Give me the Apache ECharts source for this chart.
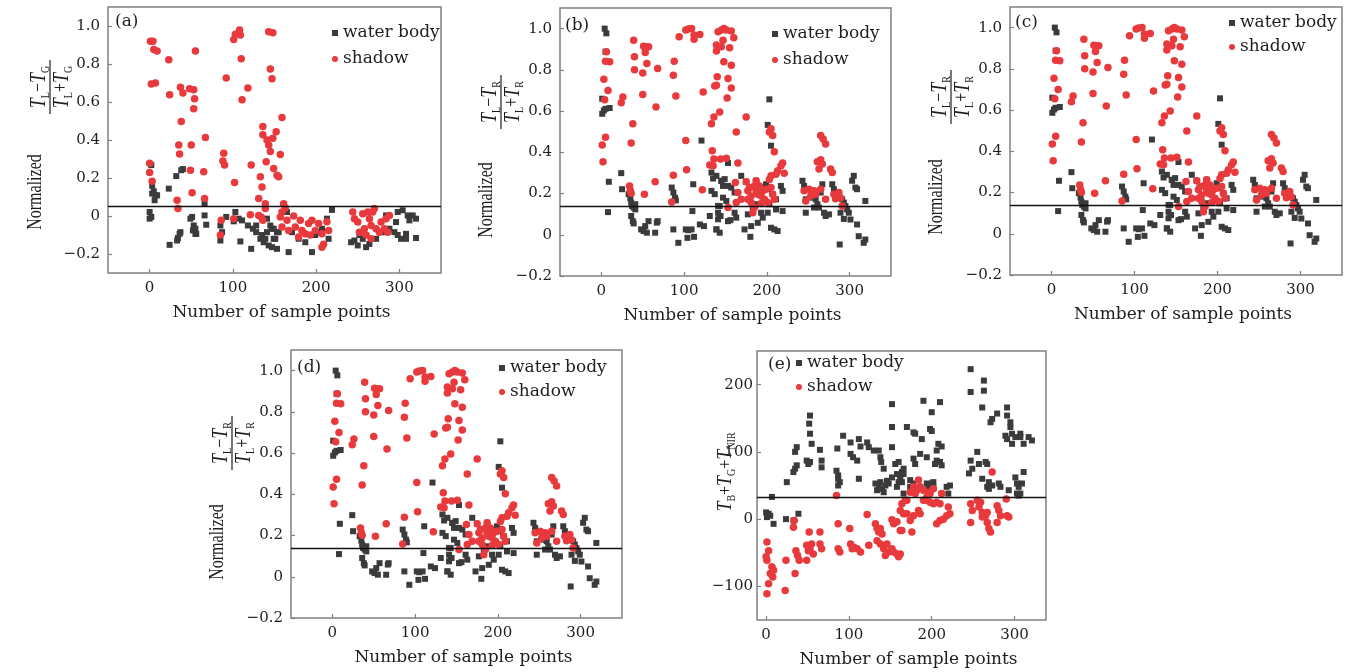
<!DOCTYPE html>
<html><head><meta charset="utf-8">
<script src="https://cdn.jsdelivr.net/npm/echarts@6/dist/echarts.min.js"></script>
<style>html,body{margin:0;padding:0;background:#fff}#c{width:1356px;height:672px}</style>
</head><body><div id="c"></div>
<script>
const xTicks = [0, 100, 200, 300];
const yTicksNorm = [-0.2, 0, 0.2, 0.4, 0.6, 0.8, 1.0];
const yTicksE = [-100, 0, 100, 200];
const seriesNames = ['water body', 'shadow'];
const xTitle = 'Number of sample points';

const aLine = 0.053;
const bcdLine = 0.137;
const eLine = 33;

const aWater = [[2,0.268],[3,0.159],[5,0.13],[7,0.109],[3,0.118],[9,0.109],[6,0.083],[0,0.021],[2,-0.005],[0,-0.014],[32,0.21],[38,0.241],[40,0.247],[23,0.144],[24,-0.152],[34,-0.116],[36,-0.094],[37,-0.085],[33,-0.129],[49,-0.014],[51,-0.005],[53,-0.05],[55,-0.067],[55,-0.094],[52,-0.076],[56,-0.094],[66,0.003],[68,-0.046],[66,0.065],[85,-0.129],[87,-0.085],[85,-0.05],[92,-0.005],[103,0.021],[101,-0.028],[107,-0.014],[111,-0.023],[109,-0.134],[122,-0.173],[118,-0.05],[124,-0.067],[128,-0.085],[135,-0.10],[137,-0.138],[139,-0.12],[141,-0.085],[145,-0.05],[149,-0.067],[153,-0.085],[153,-0.173],[143,-0.155],[133,-0.12],[128,-0.05],[141,-0.014],[149,-0.12],[147,-0.164],[163,0.039],[165,0.021],[219,0.032],[213,-0.014],[207,-0.067],[203,-0.085],[199,-0.10],[215,-0.12],[151,-0.12],[167,-0.19],[195,-0.19],[187,-0.138],[179,-0.12],[171,-0.085],[155,-0.085],[147,-0.067],[246,-0.129],[250,-0.155],[260,-0.164],[264,-0.147],[272,-0.12],[278,-0.085],[288,-0.067],[294,-0.085],[298,-0.10],[302,-0.12],[308,-0.094],[308,-0.12],[298,0.021],[304,0.03],[310,0.003],[316,0.003],[320,-0.014],[320,-0.116],[312,-0.023],[296,-0.032],[284,0.003],[282,-0.085],[256,-0.12],[252,-0.10],[242,-0.138]];
const aShadow = [[1,0.92],[4,0.92],[5,0.876],[9,0.868],[2,0.695],[7,0.70],[55,0.868],[23,0.823],[24,0.638],[37,0.677],[40,0.647],[48,0.67],[53,0.665],[54,0.617],[53,0.564],[38,0.497],[67,0.413],[35,0.374],[36,0.326],[50,0.374],[0,0.277],[0,0.229],[3,0.183],[49,0.241],[65,0.233],[51,0.123],[33,0.083],[34,0.039],[66,0.092],[89,0.33],[88,0.289],[90,0.268],[102,0.176],[92,0.726],[101,0.929],[103,0.956],[108,0.979],[109,0.952],[110,0.827],[111,0.612],[118,0.674],[122,0.268],[133,0.206],[135,0.153],[131,0.092],[121,0.007],[131,0.003],[86,-0.023],[85,-0.10],[101,-0.014],[136,0.471],[136,0.427],[141,0.40],[143,0.374],[140,0.286],[149,0.25],[152,0.444],[143,0.97],[148,0.965],[145,0.774],[147,0.723],[139,0.065],[139,0.039],[134,-0.005],[136,-0.023],[153,0.214],[159,0.518],[148,0.409],[145,0.339],[157,0.324],[155,0.206],[161,0.065],[163,0.042],[159,0.021],[157,-0.005],[165,-0.023],[173,0.0],[181,-0.023],[175,-0.058],[183,-0.076],[191,-0.04],[195,-0.023],[199,-0.076],[203,-0.04],[207,-0.094],[209,-0.149],[207,-0.164],[187,-0.094],[179,-0.11],[193,-0.10],[215,-0.076],[213,-0.03],[167,-0.076],[159,-0.058],[244,0.021],[246,-0.014],[250,-0.032],[256,0.012],[262,0.021],[264,-0.014],[266,-0.05],[268,0.021],[270,0.039],[258,-0.067],[252,-0.085],[260,-0.10],[266,-0.12],[272,-0.067],[278,-0.032],[284,-0.014],[288,0.003],[282,-0.067],[286,-0.085],[276,-0.085]];

const bWater = [[4,1.0],[6,0.977],[5,0.888],[1,0.66],[3,0.603],[1,0.587],[5,0.611],[10,0.615],[9,0.257],[8,0.11],[24,0.299],[25,0.221],[33,0.197],[35,0.176],[36,0.156],[37,0.14],[39,0.132],[41,0.148],[41,0.123],[36,0.091],[38,0.066],[39,0.055],[48,0.026],[51,0.018],[55,0.01],[57,0.066],[53,0.042],[65,0.01],[67,0.059],[68,0.066],[85,0.229],[87,0.205],[89,0.18],[90,0.167],[87,0.026],[93,-0.039],[102,0.026],[105,0.022],[109,0.026],[104,-0.015],[112,-0.01],[111,0.245],[110,0.115],[121,0.457],[119,0.05],[124,0.042],[131,0.091],[139,0.026],[141,0.075],[143,0.091],[133,0.302],[135,0.273],[133,0.213],[137,0.197],[141,0.14],[145,0.261],[147,0.237],[203,0.657],[201,0.533],[205,0.432],[153,0.348],[139,0.286],[145,0.262],[149,0.27],[153,0.237],[157,0.229],[161,0.205],[147,0.18],[151,0.164],[143,0.139],[141,0.107],[144,0.091],[153,0.066],[156,0.071],[139,0.026],[143,0.01],[169,0.286],[175,0.257],[187,0.262],[199,0.245],[201,0.221],[217,0.237],[219,0.213],[207,0.197],[211,0.172],[197,0.164],[203,0.148],[187,0.148],[183,0.123],[177,0.099],[193,0.107],[195,0.083],[189,0.058],[181,0.042],[173,0.026],[180,-0.01],[205,0.034],[209,0.026],[213,0.018],[211,0.123],[219,0.115],[163,0.083],[161,0.107],[201,0.107],[243,0.262],[245,0.237],[247,0.172],[247,0.107],[255,0.18],[259,0.172],[261,0.148],[263,0.132],[257,0.132],[267,0.245],[265,0.205],[279,0.245],[281,0.221],[271,0.091],[275,0.099],[289,0.107],[291,0.172],[293,0.156],[295,0.139],[297,0.123],[299,0.107],[301,0.074],[303,0.262],[305,0.286],[307,0.229],[309,0.221],[319,0.164],[309,0.05],[311,-0.007],[319,-0.023],[317,-0.039],[288,-0.047],[293,0.077],[269,0.107]];
const bShadow = [[39,0.944],[51,0.915],[53,0.912],[57,0.912],[53,0.884],[40,0.863],[6,0.888],[5,0.842],[10,0.839],[40,0.801],[50,0.785],[55,0.831],[68,0.806],[3,0.754],[8,0.70],[4,0.655],[26,0.668],[24,0.64],[50,0.68],[66,0.62],[88,0.842],[87,0.774],[90,0.673],[38,0.538],[36,0.445],[5,0.473],[1,0.436],[2,0.354],[34,0.237],[35,0.213],[36,0.201],[52,0.197],[65,0.257],[87,0.289],[85,0.159],[102,0.457],[103,0.315],[122,0.218],[123,0.693],[94,0.961],[102,0.993],[105,0.998],[109,1.0],[112,0.969],[112,0.949],[119,0.972],[137,0.722],[133,0.538],[134,0.408],[136,0.367],[131,0.338],[135,0.335],[136,0.571],[141,0.985],[145,0.993],[148,1.0],[151,0.993],[157,0.988],[160,0.956],[147,0.944],[139,0.92],[145,0.912],[155,0.907],[139,0.891],[148,0.839],[157,0.822],[140,0.766],[139,0.725],[153,0.758],[157,0.712],[152,0.663],[143,0.595],[175,0.571],[163,0.498],[144,0.367],[151,0.371],[165,0.348],[205,0.514],[207,0.481],[209,0.403],[203,0.498],[219,0.348],[217,0.335],[221,0.299],[213,0.31],[211,0.294],[205,0.286],[265,0.481],[268,0.465],[271,0.44],[261,0.354],[265,0.364],[263,0.319],[277,0.319],[279,0.302],[267,0.343],[162,0.254],[175,0.257],[165,0.205],[169,0.172],[163,0.156],[177,0.213],[179,0.229],[181,0.188],[185,0.237],[187,0.213],[189,0.197],[193,0.188],[191,0.237],[195,0.213],[197,0.172],[199,0.221],[201,0.156],[205,0.229],[207,0.197],[193,0.152],[185,0.132],[183,0.107],[177,0.172],[181,0.156],[153,0.132],[209,0.172],[203,0.268],[187,0.262],[245,0.213],[251,0.221],[255,0.205],[257,0.213],[247,0.164],[253,0.188],[271,0.172],[281,0.197],[283,0.175],[287,0.205],[289,0.18],[291,0.139],[265,0.221],[259,0.197]];

const eWater = [[7,33],[0,10],[3,8],[1,3],[5,5],[9,-7],[24,0],[33,-2],[39,8],[25,55],[33,70],[35,75],[37,80],[35,100],[37,107],[49,87],[51,82],[53,85],[53,154],[52,142],[53,127],[55,112],[65,103],[67,87],[67,77],[85,72],[87,65],[87,60],[89,55],[87,50],[86,105],[93,124],[102,114],[102,97],[105,92],[110,87],[112,119],[114,108],[112,60],[122,114],[124,107],[130,102],[136,102],[138,92],[139,85],[132,53],[136,48],[140,45],[144,50],[148,53],[138,55],[134,43],[142,40],[146,57],[152,62],[142,75],[152,107],[152,137],[170,137],[152,171],[156,82],[160,85],[158,67],[162,65],[164,70],[166,75],[160,55],[158,48],[166,38],[190,176],[210,174],[200,159],[180,127],[178,129],[188,119],[198,134],[200,131],[208,112],[212,108],[206,102],[186,97],[194,92],[178,90],[180,82],[206,87],[210,85],[212,80],[204,82],[166,67],[162,60],[174,58],[178,53],[194,53],[196,48],[198,50],[200,53],[202,55],[202,48],[218,48],[220,38],[222,50],[164,55],[174,48],[247,223],[263,206],[263,191],[247,189],[261,166],[271,144],[273,149],[279,157],[291,166],[291,154],[295,144],[295,137],[297,127],[289,124],[291,119],[297,112],[307,127],[307,122],[311,112],[317,122],[321,117],[301,122],[255,100],[247,87],[257,82],[265,85],[267,82],[245,68],[249,75],[261,60],[269,55],[267,48],[273,50],[281,53],[283,48],[269,45],[293,43],[301,62],[303,53],[309,53],[311,70],[305,48],[303,38],[305,35],[307,38]];
const eShadow = [[85,35],[1,-34],[3,-47],[0,-56],[1,-61],[7,-71],[9,-76],[5,-81],[8,-86],[3,-96],[1,-111],[23,-106],[24,-61],[35,-81],[33,-12],[34,-2],[36,-47],[38,-54],[40,-61],[49,-61],[51,-47],[49,-39],[53,-44],[55,-37],[57,-52],[52,-19],[65,-19],[65,-37],[67,-44],[87,-7],[87,-44],[89,-49],[101,-14],[102,-37],[104,-44],[106,-42],[110,-44],[114,-49],[124,-39],[122,7],[132,-7],[134,-14],[136,-19],[138,-14],[140,-22],[134,-32],[138,-37],[142,-44],[146,-37],[148,-49],[144,-54],[152,-44],[154,-49],[158,-52],[160,-56],[152,-1],[154,-7],[158,-4],[162,13],[164,23],[168,28],[170,8],[162,-17],[178,48],[182,43],[174,40],[180,38],[190,43],[196,40],[198,38],[202,45],[212,38],[194,33],[192,28],[198,25],[202,23],[206,25],[210,23],[220,18],[222,8],[218,5],[214,0],[210,-2],[206,-7],[186,8],[184,13],[178,5],[174,-2],[166,8],[164,-17],[176,-19],[162,-52],[190,28],[170,28],[184,58],[186,48],[273,70],[247,23],[249,13],[255,28],[259,25],[257,18],[261,10],[263,8],[265,5],[267,10],[261,3],[267,-5],[269,-14],[271,-19],[247,-5],[279,20],[281,13],[283,5],[279,-5],[291,5],[293,3],[290,30]];

const SERIF = 'DejaVu Serif';
const VSERIF = 'Liberation Serif';
const TXT = '#1e1e1e';
const GREY = '#3b3b3b';
const RED = '#e8393c';

const panels = [
  {tag:'(a)', grid:{left:108, top:7, width:333, height:266}, x:[-50,350], y:[-0.3,1.1], yt:yTicksNorm, fmt:'n', lm:8, water:aWater, shadow:aShadow, line:aLine, legend:[332,24,8], tagPos:[115,23]},
  {tag:'(b)', grid:{left:560, top:8, width:331, height:268}, x:[-50,350], y:[-0.2,1.1], yt:yTicksNorm, fmt:'n', lm:8, water:bWater, shadow:bShadow, line:bcdLine, legend:[772,25,8], tagPos:[565,27]},
  {tag:'(c)', grid:{left:1010, top:7, width:332, height:268}, x:[-50,350], y:[-0.2,1.1], yt:yTicksNorm, fmt:'n', lm:8, water:bWater, shadow:bShadow, line:bcdLine, legend:[1229,14,6], tagPos:[1015,24]},
  {tag:'(d)', grid:{left:291, top:350, width:331, height:268}, x:[-50,350], y:[-0.2,1.1], yt:yTicksNorm, fmt:'n', lm:8, water:bWater, shadow:bShadow, line:bcdLine, legend:[499,359,6], tagPos:[297,369]},
  {tag:'(e)', grid:{left:757, top:351, width:289, height:269}, x:[-11,338], y:[-150,250], yt:yTicksE, fmt:'e', lm:4, water:eWater, shadow:eShadow, line:eLine, legend:[796,354,6], tagPos:[768,366]}
];

function fmtNorm(v){ if (Math.abs(v) < 1e-9) return '0'; return (v < 0 ? '\u2212' : '') + Math.abs(v).toFixed(1); }
function fmtE(v){ return v < 0 ? '\u2212' + Math.abs(v) : String(v); }

const grids = [], xAxes = [], yAxes = [], series = [], legends = [], graphics = [];
panels.forEach((p, i) => {
  grids.push(Object.assign({show:true, borderColor:'#808080', borderWidth:1.5, containLabel:false}, p.grid));
  xAxes.push({type:'value', gridIndex:i, min:p.x[0], max:p.x[1],
    axisLine:{show:false, onZero:false}, splitLine:{show:false},
    axisTick:{show:true, inside:true, length:4, lineStyle:{color:'#808080', width:1.2}, customValues:xTicks},
    axisLabel:{customValues:xTicks, margin:8, fontFamily:SERIF, fontSize:15, color:TXT},
    name:xTitle, nameLocation:'middle', nameGap:31,
    nameTextStyle:{fontFamily:SERIF, fontSize:17, color:TXT, padding:[0,0,0,14]}});
  yAxes.push({type:'value', gridIndex:i, min:p.y[0], max:p.y[1],
    axisLine:{show:false, onZero:false}, splitLine:{show:false},
    axisTick:{show:true, inside:true, length:4, lineStyle:{color:'#808080', width:1.2}, customValues:p.yt},
    axisLabel:{customValues:p.yt, margin:p.lm, fontFamily:SERIF, fontSize:15, color:TXT,
      formatter: p.fmt === 'n' ? fmtNorm : fmtE}});
  series.push({name:seriesNames[0], type:'scatter', xAxisIndex:i, yAxisIndex:i, data:p.water,
    symbol:'rect', symbolSize:6, itemStyle:{color:GREY, opacity:1}, z:2,
    markLine:{silent:true, symbol:'none', label:{show:false}, animation:false,
      lineStyle:{color:'#111', width:1.3, type:'solid'}, data:[{yAxis:p.line}]}});
  series.push({name:seriesNames[1], type:'scatter', xAxisIndex:i, yAxisIndex:i, data:p.shadow,
    symbol:'circle', symbolSize:7.5, itemStyle:{color:RED, opacity:1}, z:3});
  legends.push({left:p.legend[0], top:p.legend[1], orient:'vertical', itemWidth:6, itemHeight:6,
    itemGap:p.legend[2], padding:0, selectedMode:false,
    textStyle:{fontFamily:SERIF, fontSize:17, color:TXT, lineHeight:18},
    data:[{name:seriesNames[0], icon:'rect'}, {name:seriesNames[1], icon:'circle'}]});
  graphics.push({type:'text', left:p.tagPos[0], top:p.tagPos[1]-10,
    style:{text:p.tag, font:'17px "' + SERIF + '"', fill:TXT}});
});

const rich = {
  i:{fontFamily:VSERIF, fontStyle:'italic', fontSize:18, lineHeight:20, verticalAlign:'middle'},
  s:{fontFamily:VSERIF, fontSize:10, lineHeight:12, verticalAlign:'bottom'},
  n:{fontFamily:VSERIF, fontSize:16, lineHeight:20, verticalAlign:'middle'}
};
function vtext(x, y, text, useRich, sy){
  return {type:'text', x:x, y:y, rotation:Math.PI/2, scaleX:1, scaleY:sy || 1.25,
    style:{text:text, rich: useRich ? rich : undefined, font:'16px "' + VSERIF + '"', fill:TXT,
      align:'center', verticalAlign:'middle', textAlign:'center', textVerticalAlign:'middle'}};
}
function normTitle(nx, ny, fx, fy, sub){
  const num = '{i|T}{s|L}{n|\u2212}{i|T}{s|' + sub + '}';
  const den = '{i|T}{s|L}{n|+}{i|T}{s|' + sub + '}';
  return [
    vtext(nx, ny, 'Normalized', false),
    vtext(fx - 11, fy, num, true),
    {type:'line', shape:{x1:fx, y1:fy - 27, x2:fx, y2:fy + 27}, style:{stroke:TXT, lineWidth:1.2}},
    vtext(fx + 12, fy, den, true)
  ];
}
graphics.push(...normTitle(36, 192, 50, 87, 'G'));
graphics.push(...normTitle(487, 200, 501, 102, 'R'));
graphics.push(...normTitle(937, 197, 951, 97, 'R'));
graphics.push(...normTitle(218, 542, 232, 443, 'R'));
graphics.push(vtext(726, 472, '{i|T}{s|B}{n|+}{i|T}{s|G}{n|+}{i|T}{s|NIR}', true, 1.15));

const chart = echarts.init(document.getElementById('c'), null, {renderer:'canvas'});
chart.setOption({
  animation:false,
  backgroundColor:'#fff',
  grid:grids, xAxis:xAxes, yAxis:yAxes, series:series, legend:legends,
  graphic:graphics
});
</script>
</body></html>
